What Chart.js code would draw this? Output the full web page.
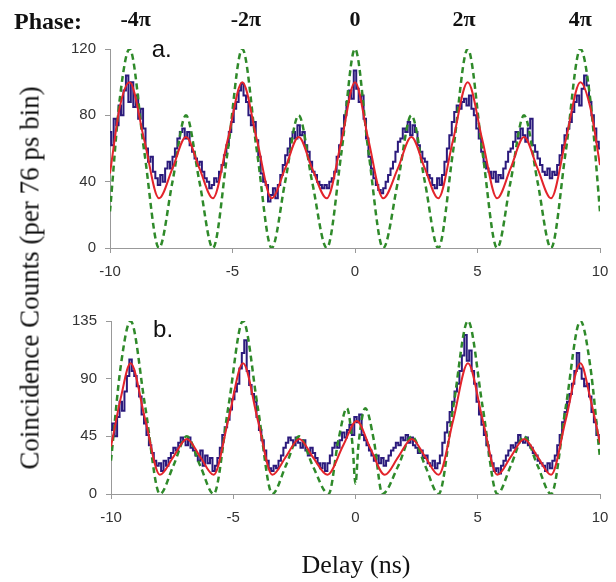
<!DOCTYPE html>
<html>
<head>
<meta charset="utf-8">
<script src="https://cdn.jsdelivr.net/npm/chart.js@4.4.1/dist/chart.umd.min.js"></script>
<style>
  body { margin: 0; background: #fff; }
  #wrap { position: relative; width: 616px; height: 582px; }
  canvas { position: absolute; left: 0; }
  #ytitle {
    position: absolute; left: 30px; top: 278px;
    transform: translate(-50%, -50%) rotate(-90deg);
    font: 27px "Liberation Serif", serif; white-space: nowrap; color: #111;
  }
  #xtitle {
    position: absolute; left: 356px; top: 565px;
    transform: translate(-50%, -50%);
    font: 26px "Liberation Serif", serif; white-space: nowrap; color: #111;
  }
</style>
</head>
<body>
<div id="wrap">
  <canvas id="chartA" width="616" height="290" style="top:0"></canvas>
  <canvas id="chartB" width="616" height="292" style="top:290px"></canvas>
  <div id="ytitle">Coincidence Counts (per 76 ps bin)</div>
  <div id="xtitle">Delay (ns)</div>
</div>
<script>
// sample grid for the measured histogram, -10 .. 10 ns every 0.1 ns
const delays = Array.from({ length: 201 }, (_, i) => Math.round((-10 + i * 0.1) * 10) / 10);

const phaseLabels = ["-4π", "-2π", "0", "2π", "4π"];
const phaseDelays = [-8.95, -4.45, 0, 4.45, 9.2];

// panel a
const dataA = [
  70, 62, 78, 74, 86, 80, 95, 104, 88, 100,
  85, 92, 78, 84, 72, 60, 52, 55, 46, 42,
  38, 44, 40, 48, 52, 48, 55, 60, 66, 70,
  72, 66, 70, 62, 58, 54, 50, 52, 46, 42,
  40, 36, 38, 42, 40, 46, 50, 56, 62, 70,
  76, 84, 88, 95, 99, 92, 88, 80, 74, 76,
  65, 55, 45, 40, 38, 28, 32, 36, 30, 38,
  44, 50, 56, 60, 66, 70, 66, 74, 68, 70,
  62, 58, 52, 46, 44, 40, 38, 36, 38, 36,
  40, 42, 46, 55, 62, 72, 80, 88, 95, 90,
  107, 96, 88, 92, 78, 66, 55, 48, 42, 38,
  35, 33, 36, 40, 44, 48, 52, 58, 64, 66,
  72, 70, 76, 68, 74, 70, 62, 58, 54, 52,
  44, 42, 38, 36, 42, 38, 44, 52, 60, 68,
  76, 82, 86, 84, 88, 90, 86, 92, 84, 80,
  72, 66, 58, 52, 48, 46, 42, 46, 40, 44,
  42, 48, 52, 58, 60, 64, 70, 66, 72, 68,
  64, 72, 78, 62, 58, 54, 50, 46, 44, 48,
  42, 46, 44, 50, 56, 62, 68, 72, 76, 82,
  88, 92, 86, 96, 104, 98, 88, 80, 72, 64,
  60
];
const fitXA = [-10, -9.6, -9.2, -8.6, -8.0, -7.45, -6.9, -6.35, -5.8, -5.2, -4.6, -4.0, -3.4, -2.85, -2.3, -1.75, -1.15, -0.55, 0,
  0.55, 1.15, 1.75, 2.3, 2.85, 3.4, 4.0, 4.6, 5.2, 5.8, 6.35, 6.9, 7.45, 8.0, 8.6, 9.2, 9.6, 10];
const fitA = [45, 85, 100, 65, 30, 48, 67, 48, 30, 65, 100, 65, 30, 48, 67, 48, 30, 65, 100,
  65, 30, 48, 67, 48, 30, 65, 100, 65, 30, 48, 67, 48, 30, 65, 100, 85, 50];
const idealA = [22, 90, 120, 58, 0, 40, 80, 40, 0, 58, 120, 58, 0, 40, 80, 40, 0, 58, 120,
  58, 0, 40, 80, 40, 0, 58, 120, 58, 0, 40, 80, 40, 0, 58, 120, 90, 22];

// panel b
const dataB = [
  50, 55, 45, 60, 72, 65, 80, 92, 105, 96,
  92, 84, 76, 62, 55, 46, 38, 32, 26, 22,
  24, 18, 26, 22, 28, 32, 36, 34, 40, 44,
  42, 38, 44, 36, 34, 30, 26, 34, 22, 30,
  24, 28, 18, 22, 28, 36, 46, 52, 58, 66,
  74, 80, 86, 98, 110, 120, 96, 85, 78, 72,
  60, 50, 42, 34, 26, 20, 18, 22, 20, 26,
  30, 36, 40, 44, 42, 38, 44, 40, 36, 42,
  34, 30, 36, 32, 28, 24, 20, 24, 18, 24,
  30, 36, 40, 36, 42, 48, 44, 50, 54, 46,
  60, 56, 62, 46, 42, 38, 34, 30, 26, 30,
  24, 28, 22, 26, 30, 34, 36, 40, 38, 44,
  42, 46, 40, 44, 38, 36, 32, 34, 28, 30,
  24, 22, 26, 20, 24, 30, 40, 48, 56, 64,
  72, 80, 86, 96, 108, 124, 104, 112, 96, 86,
  72, 62, 54, 46, 38, 30, 24, 18, 20, 16,
  22, 26, 30, 34, 38, 36, 40, 46, 42, 40,
  44, 38, 36, 32, 30, 26, 24, 22, 18, 24,
  20, 26, 30, 38, 46, 56, 64, 72, 78, 86,
  96, 110, 98, 90, 84, 86, 76, 64, 56, 46,
  40
];
const fitXB = [-10, -9.6, -9.2, -8.6, -8.0, -7.45, -6.9, -6.35, -5.8, -5.2, -4.6, -4.0, -3.4, -2.85, -2.3, -1.75, -1.15, -0.5, 0.05,
  0.6, 1.2, 1.75, 2.3, 2.85, 3.4, 4.0, 4.6, 5.2, 5.8, 6.35, 6.9, 7.45, 8.0, 8.6, 9.2, 9.6, 10];
const fitB = [37, 75, 102, 58, 15, 29, 43, 29, 15, 58, 102, 58, 15, 29, 43, 29, 15, 38, 57,
  36, 15, 29, 43, 29, 15, 58, 102, 58, 15, 29, 43, 29, 15, 58, 102, 75, 40];
const idealXB = [-10, -9.6, -9.2, -8.6, -8.0, -7.45, -6.9, -6.35, -5.8, -5.2, -4.6, -4.0, -3.4, -2.85, -2.3, -1.75, -1.1, -0.7, -0.35, -0.12, 0,
  0.12, 0.4, 0.75, 1.1, 1.75, 2.3, 2.85, 3.4, 4.0, 4.6, 5.2, 5.8, 6.35, 6.9, 7.45, 8.0, 8.6, 9.2, 9.6, 10];
const idealB = [26, 100, 135, 68, 0, 22, 45, 22, 0, 68, 135, 68, 0, 22, 45, 22, 0, 42, 67, 38, 8,
  38, 67, 42, 0, 22, 45, 22, 0, 68, 135, 68, 0, 22, 45, 22, 0, 68, 135, 100, 28];

const pts = (xs, ys) => xs.map((x, i) => ({ x: x, y: ys[i] }));

const notes = {
  id: "notes",
  afterDraw(chart, args, opts) {
    const ctx = chart.ctx;
    const xs = chart.scales.x, ys = chart.scales.y;
    ctx.save();
    ctx.fillStyle = "#111";
    ctx.textBaseline = "alphabetic";
    if (opts.phase) {
      ctx.font = "bold 24px 'Liberation Serif'";
      ctx.textAlign = "left";
      ctx.fillText("Phase:", 14, 29);
      ctx.font = "bold 22px 'Liberation Serif'";
      ctx.textAlign = "center";
      phaseLabels.forEach((t, i) => ctx.fillText(t, xs.getPixelForValue(phaseDelays[i]), 26));
    }
    ctx.font = "24px 'Liberation Sans'";
    ctx.textAlign = "left";
    ctx.fillText(opts.letter, xs.getPixelForValue(opts.lx), ys.getPixelForValue(opts.ly));
    ctx.restore();
  }
};

function makeChart(id, data, fitX, fit, idealX, ideal, yMax, yStep, pad, axisW, note) {
  return new Chart(document.getElementById(id).getContext("2d"), {
    type: "line",
    data: {
      datasets: [
        { data: pts(fitX, fit), borderColor: "#e3242b", borderWidth: 2, cubicInterpolationMode: "monotone" },
        { data: pts(idealX, ideal), borderColor: "#2f8a2a", borderWidth: 2.5, borderDash: [6, 4], cubicInterpolationMode: "monotone" },
        { data: pts(delays, data), borderColor: "#2b1a7c", borderWidth: 2, stepped: "middle" },
      ],
    },
    options: {
      responsive: false,
      animation: false,
      elements: { point: { radius: 0 } },
      layout: { padding: pad },
      plugins: { legend: { display: false }, tooltip: { enabled: false }, notes: note },
      scales: {
        x: {
          type: "linear", min: -10, max: 10,
          ticks: { stepSize: 5, font: { family: "Liberation Sans", size: 15 }, color: "#333", maxRotation: 0, padding: 10 },
          grid: { drawOnChartArea: false, tickLength: 5, color: "#999" },
          border: { color: "#999" },
          afterFit: (s) => { s.height = 30; s.paddingLeft = 0; s.paddingRight = 0; },
        },
        y: {
          min: 0, max: yMax,
          ticks: { stepSize: yStep, font: { family: "Liberation Sans", size: 15 }, color: "#333", padding: 9 },
          grid: { drawOnChartArea: false, tickLength: 5, color: "#999" },
          border: { color: "#999" },
          afterFit: (s) => { s.width = axisW; s.paddingTop = 0; s.paddingBottom = 0; },
        },
      },
    },
    plugins: [notes],
  });
}

makeChart("chartA", dataA, fitXA, fitA, fitXA, idealA, 120, 40,
  { left: 0, right: 16, top: 49, bottom: 12 }, 110,
  { phase: true, letter: "a.", lx: -8.3, ly: 115 });
makeChart("chartB", dataB, fitXB, fitB, idealXB, idealB, 135, 45,
  { left: 0, right: 16, top: 31, bottom: 58 }, 111,
  { phase: false, letter: "b.", lx: -8.28, ly: 122.5 });
</script>
</body>
</html>
